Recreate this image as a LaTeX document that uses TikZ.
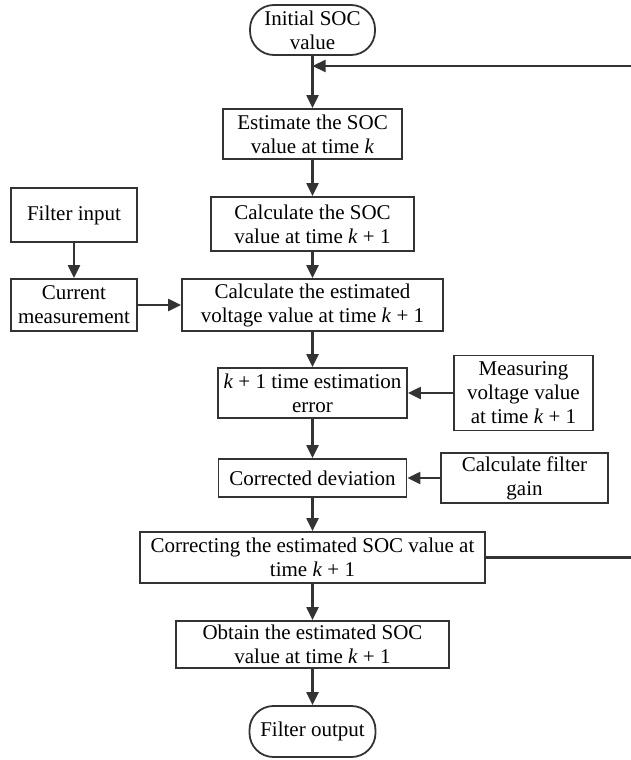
\documentclass[tikz,border=0pt]{standalone}
\usepackage{fontspec}
\setmainfont{Liberation Serif}
\usetikzlibrary{arrows.meta,positioning}

\newcommand{\kk}{\textit{k}}

\begin{document}
\begin{tikzpicture}[
    x=0.5pt, y=-0.5pt,
    box/.style={draw=black!80, line width=0.9pt, rectangle, align=center, inner sep=1pt, font=\fontsize{10.5}{12}\selectfont},
    terminal/.style={box, rounded corners=12pt},
    edge/.style={-{Triangle[length=6.5pt,width=6pt]}, line width=1.1pt, draw=black!80},
]

\clip (0,0) rectangle (631,760);

% Main chain
\node[terminal, minimum width=62.5pt, minimum height=25pt] (init) at (312.5,30) {Initial SOC\\value};
\node[box, minimum width=89.5pt, minimum height=25pt] (est) at (312.5,134) {Estimate the SOC\\value at time \kk};
\node[box, minimum width=101.5pt, minimum height=27pt] (calcsoc) at (312.5,224) {Calculate the SOC\\value at time \kk{} + 1};
\node[box, minimum width=130.5pt, minimum height=26pt] (volt) at (312.5,305) {Calculate the estimated\\voltage value at time \kk{} + 1};
\node[box, minimum width=94.5pt, minimum height=25pt] (err) at (312.5,393) {\kk{} + 1 time estimation\\error};
\node[box, minimum width=94pt, minimum height=19pt] (corr) at (312.5,478) {Corrected deviation};
\node[box, minimum width=172.5pt, minimum height=25.5pt] (correcting) at (312.5,557.5) {Correcting the estimated SOC value at\\time \kk{} + 1};
\node[box, minimum width=136.5pt, minimum height=23.5pt] (obtain) at (312.5,644.5) {Obtain the estimated SOC\\value at time \kk{} + 1};
\node[terminal, minimum width=63pt, minimum height=25.5pt] (output) at (312.5,731.5) {Filter output};

% Side inputs
\node[box, minimum width=63pt, minimum height=27pt] (filterin) at (74,215) {Filter input};
\node[box, minimum width=63pt, minimum height=26pt] (current) at (74,305) {Current\\measurement};
\node[box, minimum width=69.5pt, minimum height=37.5pt] (meas) at (523.5,393) {Measuring\\voltage value\\at time \kk{} + 1};
\node[box, minimum width=83.5pt, minimum height=25pt] (gain) at (524.5,478) {Calculate filter\\gain};

% Feedback loop
\coordinate (fb) at (312.5,66);
\coordinate (fbright) at (640,66);

% Edges
\draw[edge] (init) -- (est);
\draw[edge] (est) -- (calcsoc);
\draw[edge] (calcsoc) -- (volt);
\draw[edge] (filterin) -- (current);
\draw[edge] (current) -- (volt);
\draw[edge] (volt) -- (err);
\draw[edge] (meas) -- (err);
\draw[edge] (err) -- (corr);
\draw[edge] (gain) -- (corr);
\draw[edge] (corr) -- (correcting);
\draw[edge] (correcting) -- (obtain);
\draw[edge] (obtain) -- (output);
\draw[edge] (correcting.east) -| (fbright) -- (fb);

\end{tikzpicture}
\end{document}
